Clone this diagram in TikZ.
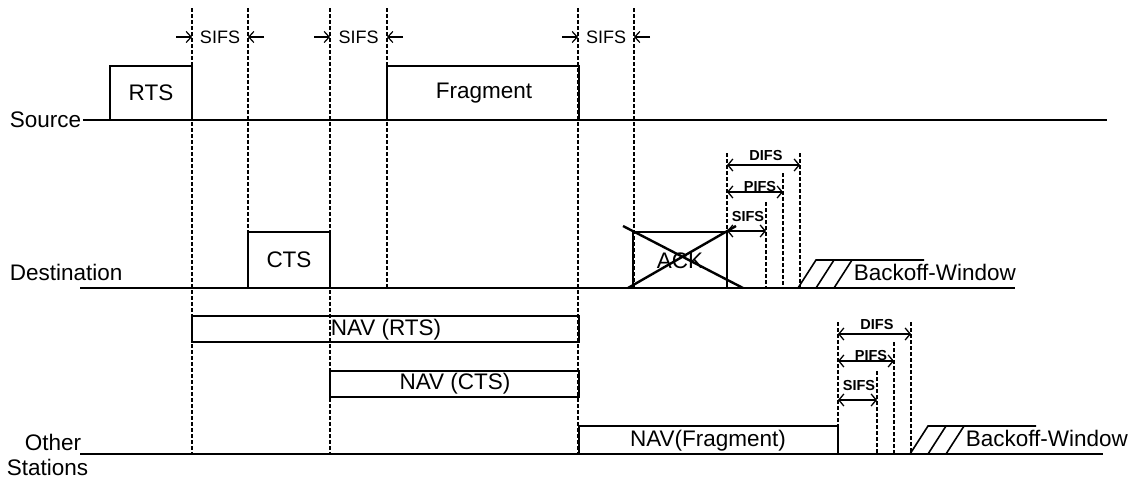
\documentclass[tikz,border=0pt]{standalone}
\usepackage{fontspec}
\setmainfont{Liberation Sans}
\usetikzlibrary{arrows.meta}
\tikzset{
  lane/.style={line width=2pt},
  frame/.style={line width=1.6pt},
  guide/.style={line width=1.2pt,dash pattern=on 4pt off 2pt},
  into/.style={line width=1.2pt,-{Straight Barb[length=5pt,width=11pt]}},
  span/.style={line width=1.3pt,{Straight Barb[length=5pt,width=12pt]}-{Straight Barb[length=5pt,width=12pt]}},
  tag/.style={font=\fontsize{18}{20}\selectfont},
  ifs/.style={font=\fontsize{14.5}{16}\selectfont\bfseries}
}
\begin{document}
\begin{tikzpicture}[x=1pt,y=-1pt,line width=1.6pt,
  every node/.style={font=\fontsize{22.5}{24}\selectfont,inner sep=1pt}]
  \path[use as bounding box] (0,0) rectangle (1143,479);
  % stations
  \node[anchor=west] (src) at (8,120) {Source};
  \node[anchor=west] (dst) at (8,272) {Destination};
  \node[anchor=east] (oth) at (83,442) {Other};
  \node[anchor=west] (sta) at (5,467) {Stations};
  \draw[lane] (src.east) -- (1107,120);
  \draw[lane] (80,288) -- (1015,288);
  \draw[lane] (80,454) -- (1103,454);
  % frames
  \draw[frame] (110,120) |- (192,66) -- (192,120);
  \node (rts) at (151,93) {RTS};
  \draw[frame] (387,120) |- (579,66) -- (579,120);
  \node (frag) at (484,93) {Fragment};
  \draw[frame] (248,288) |- (330,232) -- (330,288);
  \node (cts) at (289,260) {CTS};
  \draw[frame] (633,288) |- (727,232) -- (727,288);
  \node (ack) at (680,261) {ACK};
  \draw[line width=2.4pt] (623,226) -- (743,288) (628,288) -- (736,226);
  \draw[frame] (192,316) rectangle (579,342);
  \node (navrts) at (386,330) {NAV (RTS)};
  \draw[frame] (330,371) rectangle (579,397);
  \node (navcts) at (455,384) {NAV (CTS)};
  \draw[frame] (579,454) |- (838,426) -- (838,454);
  \node (navfrag) at (708,441) {NAV(Fragment)};
  % SIFS gaps on top
  \foreach \x/\y in {192/454,248/288,330/454,387/288,578/454,634/288}
    \draw[guide] (\x,8) -- (\x,\y);
  \foreach \a/\b [count=\i] in {192/248,330/387,578/634}{
    \draw[into] (\a-16,37) -- (\a,37);
    \draw[into] (\b+16,37) -- (\b,37);
    \node[tag] (sifs\i) at ({(\a+\b)/2},37) {SIFS};
  }
  % interframe spaces and backoff
  \foreach \l/\t/\b [count=\i] in {727/153/288,838/322/454}{
    \draw[guide] (\l,\t) -- (\l,\b);
    \draw[guide] (\l+73,\t) -- (\l+73,\b);
    \draw[guide] (\l+56,\t+20) -- (\l+56,\b);
    \draw[guide] (\l+39,\t+49) -- (\l+39,\b);
    \draw[span] (\l,\t+12) -- (\l+73,\t+12);
    \draw[span] (\l,\t+39) -- (\l+56,\t+39);
    \draw[span] (\l,\t+78) -- (\l+39,\t+78);
    \node[ifs] (difs\i) at (\l+39,\t+3) {DIFS};
    \node[ifs] (pifs\i) at (\l+33,\t+34) {PIFS};
    \node[ifs] (sifsb\i) at (\l+21,\t+64) {SIFS};
  }
  \foreach \s/\b [count=\i] in {798/288,910/454}{
    \draw[frame] (\s,\b) -- (\s+18,\b-28) -- (\s+126,\b-28)
      (\s+18,\b) -- (\s+36,\b-28) (\s+36,\b) -- (\s+54,\b-28);
    \node[anchor=west] (boff\i) at (\s+54,\b-16) {Backoff-Window};
  }
\end{tikzpicture}
\end{document}
